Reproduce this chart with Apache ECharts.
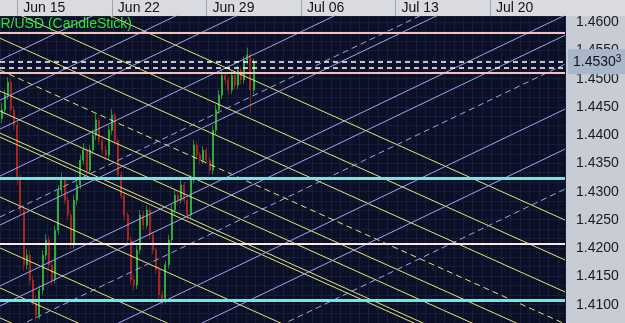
<!DOCTYPE html>
<html>
<head>
<meta charset="utf-8">
<script src="https://cdn.jsdelivr.net/npm/echarts@6/dist/echarts.min.js"></script>
<style>
  html, body { margin: 0; padding: 0; background: #c8ccd5; }
  #main { width: 625px; height: 323px; }
</style>
</head>
<body>
<div id="main"></div>
<script>
// x = 4-hour bars counted from Jun 15 00:00
var weekStarts = [0, 30, 60, 90, 120, 150];
var weekLabels = ["Jun 15", "Jun 22", "Jun 29", "Jul 06", "Jul 13", "Jul 20"];
var priceTicks = [1.41, 1.415, 1.42, 1.425, 1.43, 1.435, 1.44, 1.445, 1.45, 1.455, 1.46];
var firstBar = -5;

var opens = [
  1.4430, 1.4445, 1.4471, 1.4494, 1.4445, 1.4418, 1.4321, 1.4268, 1.4171, 1.4188,
  1.4144, 1.4109, 1.4082, 1.4126, 1.4188, 1.4215, 1.4171, 1.4144, 1.4232, 1.4303,
  1.4321, 1.4285, 1.4259, 1.4206, 1.4285, 1.4312, 1.4356, 1.4374, 1.4338, 1.4374,
  1.4400, 1.4427, 1.4391, 1.4374, 1.4365, 1.4409, 1.4436, 1.4391, 1.4330, 1.4294,
  1.4259, 1.4215, 1.4144, 1.4135, 1.4197, 1.4259, 1.4241, 1.4268, 1.4224, 1.4197,
  1.4162, 1.4118, 1.4109, 1.4171, 1.4215, 1.4268, 1.4294, 1.4285, 1.4312, 1.4285,
  1.4259, 1.4321, 1.4383, 1.4365, 1.4356, 1.4374, 1.4356, 1.4338, 1.4409, 1.4445,
  1.4471, 1.4506, 1.4498, 1.4480, 1.4506, 1.4489, 1.4515, 1.4498, 1.4533, 1.4542,
  1.4480
];
var closes = [
  1.4445, 1.4471, 1.4494, 1.4445, 1.4418, 1.4321, 1.4268, 1.4171, 1.4188, 1.4144,
  1.4109, 1.4082, 1.4126, 1.4188, 1.4215, 1.4171, 1.4144, 1.4232, 1.4303, 1.4321,
  1.4285, 1.4259, 1.4206, 1.4285, 1.4312, 1.4356, 1.4374, 1.4338, 1.4374, 1.4400,
  1.4427, 1.4391, 1.4374, 1.4365, 1.4409, 1.4436, 1.4391, 1.4330, 1.4294, 1.4259,
  1.4215, 1.4144, 1.4135, 1.4197, 1.4259, 1.4241, 1.4268, 1.4224, 1.4197, 1.4162,
  1.4118, 1.4109, 1.4171, 1.4215, 1.4268, 1.4294, 1.4285, 1.4312, 1.4285, 1.4259,
  1.4321, 1.4383, 1.4365, 1.4356, 1.4374, 1.4356, 1.4338, 1.4409, 1.4445, 1.4471,
  1.4506, 1.4498, 1.4480, 1.4506, 1.4489, 1.4515, 1.4498, 1.4533, 1.4542, 1.4480,
  1.4530
];
var lows = [
  1.4422, 1.4438, 1.4463, 1.4437, 1.4410, 1.4312, 1.4260, 1.4160, 1.4163, 1.4136,
  1.4100, 1.4071, 1.4075, 1.4118, 1.4180, 1.4163, 1.4135, 1.4138, 1.4224, 1.4295,
  1.4278, 1.4250, 1.4198, 1.4200, 1.4276, 1.4305, 1.4348, 1.4330, 1.4331, 1.4366,
  1.4392, 1.4384, 1.4366, 1.4357, 1.4358, 1.4401, 1.4384, 1.4322, 1.4287, 1.4250,
  1.4207, 1.4136, 1.4126, 1.4128, 1.4190, 1.4233, 1.4235, 1.4216, 1.4190, 1.4154,
  1.4110, 1.4100, 1.4103, 1.4164, 1.4208, 1.4260, 1.4277, 1.4279, 1.4278, 1.4251,
  1.4252, 1.4315, 1.4358, 1.4349, 1.4349, 1.4349, 1.4330, 1.4331, 1.4402, 1.4438,
  1.4464, 1.4490, 1.4472, 1.4473, 1.4482, 1.4482, 1.4490, 1.4491, 1.4525, 1.4439,
  1.4473
];
var highs = [
  1.4458, 1.4480, 1.4503, 1.4499, 1.4452, 1.4424, 1.4330, 1.4275, 1.4199, 1.4196,
  1.4152, 1.4115, 1.4134, 1.4197, 1.4225, 1.4222, 1.4178, 1.4240, 1.4312, 1.4334,
  1.4327, 1.4292, 1.4265, 1.4294, 1.4320, 1.4365, 1.4386, 1.4380, 1.4383, 1.4410,
  1.4438, 1.4432, 1.4398, 1.4382, 1.4418, 1.4447, 1.4440, 1.4396, 1.4336, 1.4300,
  1.4264, 1.4221, 1.4153, 1.4205, 1.4268, 1.4266, 1.4276, 1.4273, 1.4230, 1.4202,
  1.4168, 1.4125, 1.4178, 1.4224, 1.4277, 1.4303, 1.4301, 1.4322, 1.4318, 1.4290,
  1.4330, 1.4392, 1.4389, 1.4371, 1.4381, 1.4379, 1.4362, 1.4417, 1.4454, 1.4480,
  1.4516, 1.4512, 1.4504, 1.4514, 1.4512, 1.4524, 1.4521, 1.4540, 1.4555, 1.4547,
  1.4536
];

var lastPrice = 1.45303;
var askLine = 1.4520;
var pinkLevels = [1.4581, 1.4510, 1.4208];
var cyanLevels = [1.4324, 1.4109];

// trend lines: [price at left edge, price at right edge]
var xLeft = -5.49, xRight = 173.8;
var yellowSolid = [
  [1.46989, 1.42501], [1.46283, 1.41795], [1.45717, 1.41229], [1.44781, 1.40293],
  [1.44428, 1.39940], [1.44039, 1.39551], [1.43968, 1.39480], [1.42908, 1.38420],
  [1.42007, 1.37519], [1.41300, 1.36812], [1.40770, 1.36282]
];
var yellowDashed = [[1.45152, 1.40664]];
var blueSolid = [
  [1.45329, 1.50117], [1.44622, 1.49410], [1.44110, 1.48898], [1.43279, 1.48067],
  [1.42413, 1.47201], [1.41336, 1.46124], [1.40982, 1.45770], [1.39675, 1.44463],
  [1.38968, 1.43756]
];
var blueDashed = [[1.42555, 1.47343], [1.40470, 1.45258], [1.38261, 1.43049]];

var candles = opens.map(function (o, i) {
  return [firstBar + i, o, closes[i], lows[i], highs[i]];
});

function toLines(list) {
  return list.map(function (p) {
    return { coords: [[xLeft, p[0]], [xRight, p[1]]] };
  });
}

function level(v, color, width, type) {
  return { yAxis: v, lineStyle: { color: color, width: width, type: type || 'solid' }, label: { show: false } };
}

var chart = echarts.init(document.getElementById('main'));
var font = "'Liberation Sans', Arial, sans-serif";

var option = {
  animation: false,
  backgroundColor: '#c8ccd5',
  graphic: [
    { type: 'rect', shape: { x: 0, y: 0, width: 625, height: 16 }, style: { fill: '#dadbe0' }, z: 0 },
    { type: 'text', x: -19, y: 17, style: { text: 'EUR/USD (CandleStick)', fill: '#2ee62e', font: '14px ' + font }, z: 50 }
  ],
  grid: {
    left: 0, right: 60, top: 16, bottom: 0,
    show: true, backgroundColor: '#0b1027', borderWidth: 0
  },
  xAxis: [{
    type: 'value', min: xLeft, max: xRight, position: 'top',
    axisLine: { show: false, onZero: false },
    axisTick: { show: true, customValues: weekStarts, length: 16, inside: false, lineStyle: { color: '#9ea3ad', width: 1 } },
    axisLabel: {
      customValues: weekStarts, margin: 8, align: 'left', verticalAlign: 'middle', padding: [0, 0, 0, 6],
      color: '#111', fontSize: 14, fontFamily: font,
      formatter: function (v) { return weekLabels[weekStarts.indexOf(Math.round(v))] || ''; }
    },
    splitLine: { show: false }
  }, {
    type: 'value', min: 0, max: 179.29, interval: 3, show: true, position: 'bottom',
    axisLine: { show: false, onZero: false }, axisTick: { show: false }, axisLabel: { show: false },
    splitLine: { show: true, lineStyle: { color: '#151e3a', width: 1 } }
  }],
  yAxis: [{
    type: 'value', min: 1.4068, max: 1.4611, position: 'right',
    axisLine: { show: false, onZero: false }, axisTick: { show: false },
    axisLabel: {
      customValues: priceTicks, margin: 11, color: '#1a1a1a', fontSize: 14, fontFamily: font,
      formatter: function (v) { return v.toFixed(4); }
    },
    splitLine: { show: false }
  }, {
    type: 'value', min: 0, max: 307, interval: 9.4, position: 'left',
    axisLine: { show: false, onZero: false }, axisTick: { show: false }, axisLabel: { show: false },
    splitLine: { show: true, lineStyle: { color: '#151e3a', width: 1 } }
  }],
  series: [
    {
      type: 'candlestick', data: candles, barWidth: 1.5, z: 2,
      itemStyle: { color: '#3ad43a', color0: '#cf2a1c', borderColor: '#3ad43a', borderColor0: '#cf2a1c', borderWidth: 0.6 },
      markLine: {
        symbol: 'none', silent: true, animation: false, precision: 5,
        data: [
          level(pinkLevels[0], '#f2c4bd', 2),
          level(pinkLevels[1], '#f2c4bd', 2),
          level(pinkLevels[2], '#fbe8e6', 2),
          level(cyanLevels[0], '#7fe0e4', 3),
          level(cyanLevels[1], '#7fe0e4', 3),
          level(askLine, '#ffffff', 1.5, [5, 4]),
          {
            yAxis: lastPrice, lineStyle: { color: '#ffffff', width: 1.5, type: [5, 4] },
            label: {
              show: true, position: 'end', distance: 3,
              formatter: '{a|1.4530}{b|3}',
              backgroundColor: '#aab6ca', padding: [5, 6, 4, 5],
              rich: {
                a: { fontSize: 14, color: '#111', fontFamily: font },
                b: { fontSize: 10, color: '#111', fontFamily: font, verticalAlign: 'top', padding: [0, 0, 6, 0] }
              }
            }
          }
        ]
      }
    },
    {
      type: 'lines', coordinateSystem: 'cartesian2d', z: 3, silent: true,
      lineStyle: { color: '#e6e67a', width: 1, opacity: 1 },
      data: toLines(yellowSolid)
    },
    {
      type: 'lines', coordinateSystem: 'cartesian2d', z: 3, silent: true,
      lineStyle: { color: '#e6e67a', width: 1, opacity: 1, type: [6, 4] },
      data: toLines(yellowDashed)
    },
    {
      type: 'lines', coordinateSystem: 'cartesian2d', z: 3, silent: true,
      lineStyle: { color: '#a3a3ef', width: 1, opacity: 1 },
      data: toLines(blueSolid)
    },
    {
      type: 'lines', coordinateSystem: 'cartesian2d', z: 3, silent: true,
      lineStyle: { color: '#a3a3ef', width: 1, opacity: 1, type: [6, 4] },
      data: toLines(blueDashed)
    }
  ]
};
chart.setOption(option);
</script>
</body>
</html>
